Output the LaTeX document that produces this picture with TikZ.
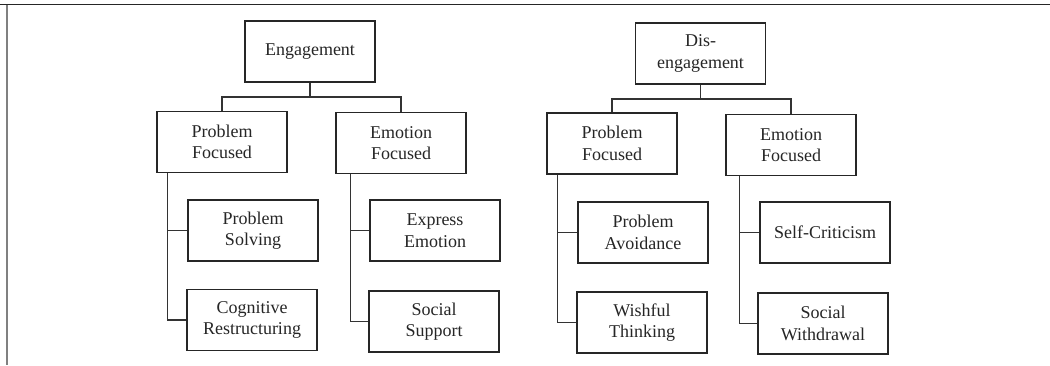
\documentclass[tikz,border=0pt]{standalone}
\usepackage{fontspec}
\setmainfont{Liberation Serif}
\begin{document}
\begin{tikzpicture}[x=1pt,y=-1pt,
  box/.style={draw=black!85,line width=1.2pt,minimum width=130pt,minimum height=61pt,
    inner sep=0pt,align=center,text=black!85,font=\fontsize{18}{21.5}\selectfont},
  conn/.style={draw=black!80,line width=1.2pt}]
\useasboundingbox (0,0) rectangle (1050,365);
\fill[white] (0,0) rectangle (1050,365);
% frame
\draw[black!85,line width=1.4pt] (0,4.5) -- (1050,4.5);
\draw[black!50,line width=1.3pt] (7,4.5) -- (7,365);
% left tree
\node[box] (eng) at (310,51.5) {Engagement};
\node[box] (pf1) at (222,142) {Problem\\Focused};
\node[box] (ef1) at (401,143) {Emotion\\Focused};
\node[box] (ps) at (253,230.5) {Problem\\Solving};
\node[box] (cr) at (252,320) {Cognitive\\Restructuring};
\node[box] (ee) at (435,230.5) {Express\\Emotion};
\node[box] (ss) at (434,321.5) {Social\\Support};
\coordinate (bar1) at (310,97);
\draw[conn] (eng.south) -- (eng.south |- bar1) -| (pf1.north);
\draw[conn] (eng.south |- bar1) -| (ef1.north);
\coordinate (v1) at ([xshift=11pt]pf1.south west);
\draw[conn] (v1) |- (ps.west);
\draw[conn] (v1) |- (cr.west);
\coordinate (v2) at ([xshift=15pt]ef1.south west);
\draw[conn] (v2) |- (ee.west);
\draw[conn] (v2) |- (ss.west);
% right tree
\node[box] (dis) at (700.5,53.5) {Dis-\\engagement};
\node[box] (pf2) at (612,143.5) {Problem\\Focused};
\node[box] (ef2) at (791,145) {Emotion\\Focused};
\node[box] (pa) at (643,232.5) {Problem\\Avoidance};
\node[box] (wt) at (642,322.5) {Wishful\\Thinking};
\node[box] (sc) at (825,232.5) {Self-Criticism};
\node[box] (sw) at (823,323.5) {Social\\Withdrawal};
\coordinate (bar2) at (700.5,99);
\draw[conn] (dis.south) -- (dis.south |- bar2) -| (pf2.north);
\draw[conn] (dis.south |- bar2) -| (ef2.north);
\coordinate (v3) at ([xshift=11pt]pf2.south west);
\draw[conn] (v3) |- (pa.west);
\draw[conn] (v3) |- (wt.west);
\coordinate (v4) at ([xshift=14pt]ef2.south west);
\draw[conn] (v4) |- (sc.west);
\draw[conn] (v4) |- (sw.west);
\end{tikzpicture}
\end{document}
